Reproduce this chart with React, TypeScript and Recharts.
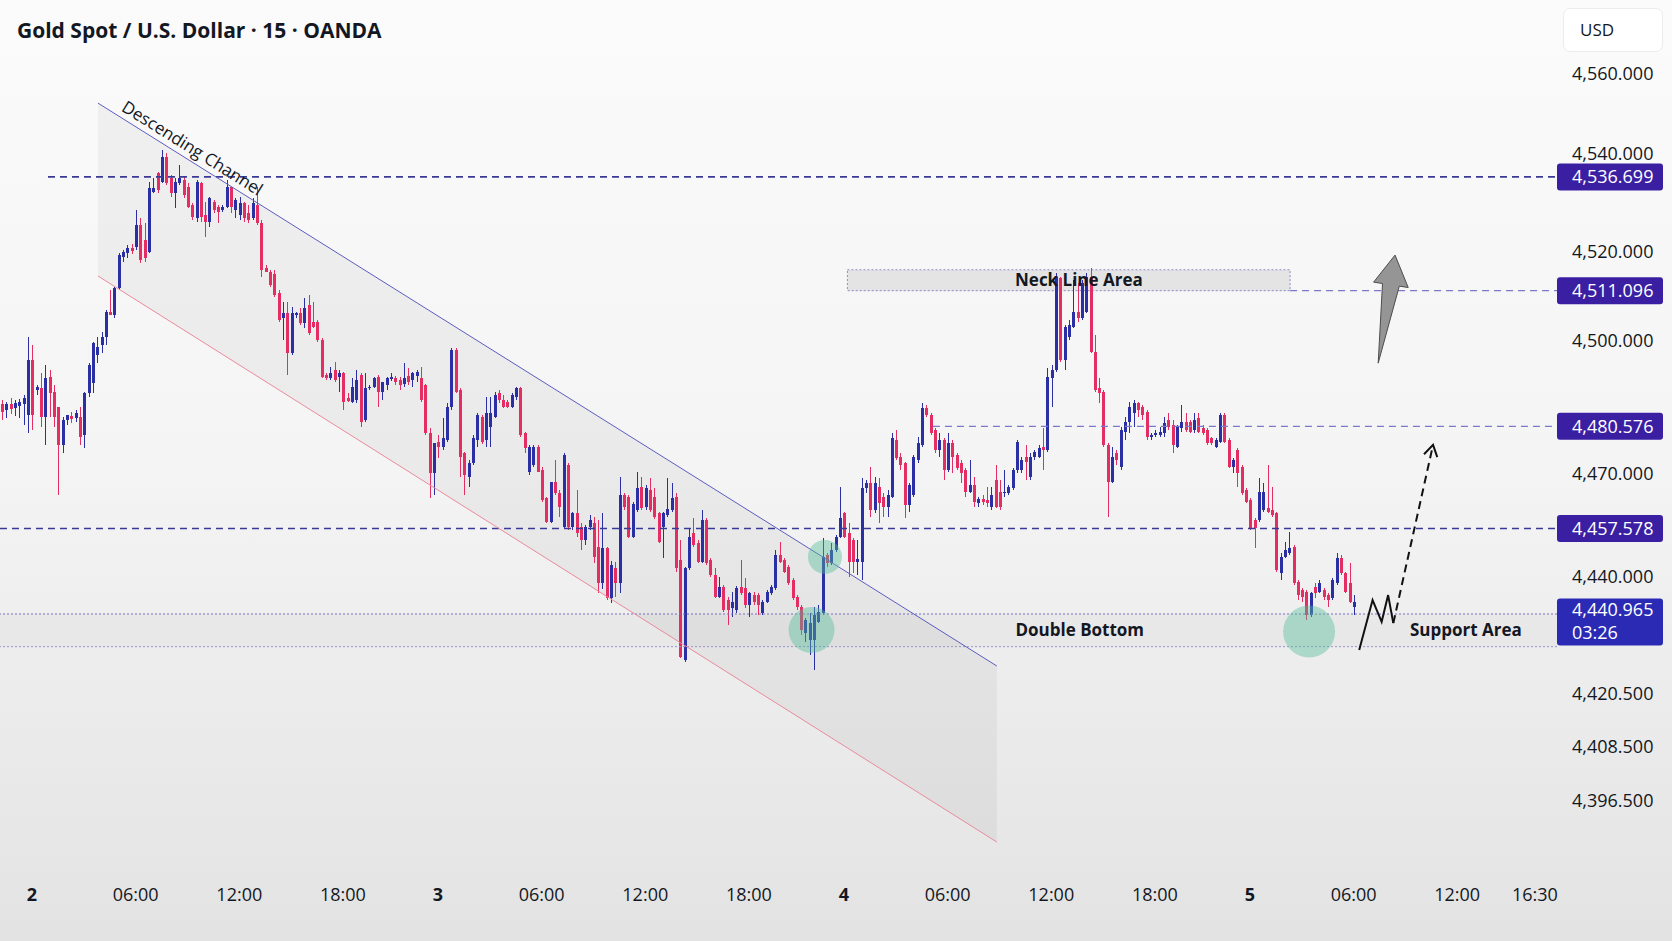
import React from "react";
import {
  ComposedChart,
  Bar,
  Area,
  Line,
  XAxis,
  YAxis,
  ReferenceLine,
  ReferenceArea,
  ReferenceDot,
} from "recharts";

type Ohlc = [number, number, number, number];

// 15 min XAU/USD bars as [open, high, low, close].
// bar index 0 = 1st, 23:45; the "2" tick sits on bar 7.
const session1: Ohlc[] = [
  [4485.6, 4486.5, 4482.0, 4483.8], [4484.3, 4486.1, 4482.5, 4485.6], [4485.6, 4487.0, 4483.4, 4484.5],
  [4484.7, 4486.5, 4482.9, 4485.8], [4485.2, 4486.7, 4482.5, 4486.1], [4485.6, 4487.6, 4480.9, 4487.0],
  [4483.1, 4500.7, 4479.1, 4495.5], [4495.5, 4498.9, 4479.8, 4483.1], [4488.8, 4489.9, 4487.6, 4489.4],
  [4489.2, 4492.6, 4480.4, 4482.7], [4482.7, 4494.4, 4476.4, 4491.5], [4491.7, 4493.3, 4482.7, 4488.1],
  [4488.3, 4489.9, 4480.4, 4482.7], [4484.9, 4484.9, 4465.1, 4476.4], [4476.4, 4482.7, 4474.6, 4482.0],
  [4482.0, 4483.1, 4480.9, 4483.1], [4482.9, 4483.8, 4481.3, 4482.2], [4482.5, 4484.3, 4481.6, 4483.6],
  [4482.7, 4484.9, 4476.4, 4478.2], [4478.6, 4488.3, 4475.7, 4488.1], [4488.1, 4494.8, 4487.2, 4494.4],
  [4490.3, 4499.6, 4488.1, 4499.3], [4496.6, 4500.7, 4494.8, 4498.4], [4498.9, 4501.8, 4497.1, 4500.7],
  [4500.7, 4506.8, 4498.9, 4506.3], [4506.3, 4511.3, 4505.6, 4505.6], [4505.6, 4511.9, 4505.0, 4511.7],
  [4511.7, 4519.6, 4511.3, 4519.1], [4518.7, 4520.3, 4517.6, 4519.8], [4519.6, 4521.4, 4518.5, 4520.7],
  [4520.7, 4521.6, 4519.4, 4520.0], [4520.9, 4529.3, 4520.3, 4525.9], [4525.9, 4527.5, 4517.3, 4518.0],
  [4522.5, 4526.3, 4517.6, 4518.5], [4519.8, 4535.6, 4519.6, 4534.2], [4533.3, 4536.5, 4533.1, 4534.2],
  [4537.6, 4537.8, 4533.1, 4533.8], [4535.6, 4542.8, 4535.3, 4541.2], [4541.2, 4542.1, 4534.9, 4535.3],
  [4536.5, 4537.1, 4532.2, 4533.1], [4533.1, 4536.5, 4529.7, 4535.6], [4535.3, 4539.4, 4534.9, 4536.5],
  [4536.0, 4536.7, 4531.9, 4532.6], [4534.4, 4535.3, 4529.7, 4529.9], [4530.4, 4530.8, 4527.0, 4527.7],
  [4527.5, 4536.0, 4526.6, 4535.6], [4535.3, 4535.6, 4526.6, 4527.7], [4528.1, 4531.1, 4523.2, 4526.6],
  [4526.6, 4532.2, 4525.4, 4531.9], [4531.1, 4531.5, 4528.6, 4529.3], [4529.9, 4530.4, 4526.3, 4528.8],
  [4529.3, 4530.4, 4528.8, 4529.9], [4529.9, 4536.0, 4529.7, 4534.4], [4534.4, 4534.4, 4528.6, 4529.9],
  [4529.3, 4531.9, 4527.5, 4531.5], [4528.1, 4532.2, 4527.0, 4530.8], [4530.8, 4531.1, 4526.6, 4527.5],
  [4528.6, 4530.4, 4526.3, 4527.0], [4527.5, 4531.9, 4527.0, 4530.8], [4530.4, 4534.4, 4525.9, 4526.3],
  [4526.3, 4527.0, 4514.2, 4515.8], [4516.2, 4516.9, 4515.3, 4515.3], [4515.3, 4515.8, 4511.9, 4512.4],
  [4514.9, 4515.8, 4509.7, 4510.1], [4510.6, 4511.3, 4504.1, 4504.5],
];

const session2: Ohlc[] = [
  [4505.0, 4508.6, 4500.0, 4506.1], [4506.1, 4508.6, 4492.1, 4497.1], [4497.1, 4507.4, 4496.6, 4506.1],
  [4505.6, 4506.3, 4505.0, 4506.1], [4506.1, 4507.2, 4503.4, 4503.8], [4503.8, 4509.5, 4502.7, 4507.2],
  [4507.9, 4510.1, 4501.1, 4501.6], [4504.1, 4508.6, 4502.7, 4502.9], [4504.1, 4504.5, 4499.6, 4500.0],
  [4500.0, 4500.5, 4491.5, 4491.7], [4492.1, 4492.6, 4491.0, 4491.5], [4491.5, 4493.9, 4491.0, 4492.6],
  [4493.3, 4495.1, 4490.6, 4491.0], [4491.7, 4493.3, 4488.3, 4492.6], [4492.6, 4492.8, 4484.3, 4486.1],
  [4487.0, 4488.1, 4486.1, 4486.3], [4486.1, 4491.5, 4485.8, 4489.4], [4486.5, 4493.3, 4485.8, 4491.0],
  [4492.1, 4492.6, 4480.4, 4481.6], [4482.0, 4492.6, 4481.6, 4489.2], [4489.2, 4489.9, 4488.8, 4489.4],
  [4489.4, 4491.7, 4489.2, 4491.5], [4491.7, 4492.1, 4484.9, 4488.3], [4488.3, 4490.6, 4486.5, 4490.6],
  [4489.9, 4491.7, 4488.8, 4491.5], [4491.2, 4492.6, 4490.8, 4491.7], [4491.5, 4491.9, 4489.9, 4490.6],
  [4491.0, 4491.7, 4488.8, 4489.9], [4490.1, 4494.8, 4489.4, 4491.5], [4491.9, 4493.7, 4489.9, 4490.6],
  [4491.0, 4492.8, 4489.4, 4492.6], [4491.9, 4493.3, 4490.6, 4492.8], [4491.5, 4493.9, 4486.1, 4486.5],
  [4489.9, 4490.1, 4478.6, 4479.1], [4479.1, 4480.2, 4464.5, 4470.1], [4470.1, 4476.8, 4465.1, 4476.8],
  [4477.1, 4478.6, 4473.5, 4475.9], [4475.9, 4482.5, 4475.3, 4478.0], [4477.5, 4485.8, 4477.1, 4484.9],
  [4484.9, 4498.2, 4484.3, 4497.8], [4497.8, 4498.2, 4488.1, 4488.3], [4488.8, 4489.2, 4469.2, 4473.7],
  [4474.6, 4474.8, 4465.1, 4469.6], [4469.2, 4473.0, 4466.9, 4472.3], [4472.3, 4478.6, 4471.9, 4478.0],
  [4477.5, 4483.6, 4475.9, 4483.1], [4482.7, 4483.1, 4476.6, 4477.1], [4477.5, 4487.2, 4475.9, 4483.6],
  [4480.4, 4487.2, 4475.9, 4483.6], [4482.7, 4488.3, 4482.5, 4487.6], [4488.1, 4488.8, 4485.8, 4486.5],
  [4486.5, 4487.6, 4484.7, 4484.9], [4486.1, 4486.5, 4484.7, 4484.9], [4484.9, 4488.1, 4484.7, 4487.6],
  [4487.2, 4489.4, 4486.5, 4489.2], [4489.2, 4489.4, 4478.2, 4478.6], [4479.1, 4479.3, 4474.6, 4475.7],
  [4470.3, 4476.4, 4469.6, 4475.9], [4471.9, 4476.4, 4471.4, 4475.9], [4475.9, 4476.4, 4470.3, 4470.3],
  [4470.8, 4471.4, 4463.6, 4464.0], [4464.5, 4464.7, 4458.8, 4459.1], [4459.1, 4468.1, 4458.8, 4468.1],
  [4468.1, 4473.0, 4465.1, 4465.6], [4465.6, 4466.3, 4460.2, 4462.4],
];

const session3: Ohlc[] = [
  [4457.9, 4474.6, 4457.7, 4474.1], [4471.9, 4472.3, 4457.3, 4457.9], [4457.9, 4461.3, 4457.3, 4461.1],
  [4461.1, 4466.3, 4455.7, 4456.6], [4457.9, 4458.8, 4452.8, 4455.0], [4455.0, 4458.4, 4453.9, 4457.9],
  [4457.9, 4460.6, 4457.3, 4459.5], [4458.8, 4460.2, 4449.8, 4451.2], [4453.4, 4459.5, 4443.1, 4445.3],
  [4445.3, 4461.1, 4444.0, 4453.2], [4453.2, 4453.4, 4441.5, 4442.0], [4442.0, 4450.3, 4440.8, 4449.4],
  [4448.7, 4450.1, 4442.2, 4445.3], [4445.3, 4469.2, 4443.1, 4465.1], [4465.1, 4465.6, 4461.8, 4462.4],
  [4464.7, 4465.1, 4455.5, 4455.7], [4455.7, 4463.6, 4455.5, 4463.1], [4461.8, 4470.3, 4461.3, 4466.7],
  [4466.9, 4469.2, 4461.8, 4462.2], [4462.4, 4467.4, 4461.8, 4466.7], [4466.3, 4469.0, 4461.3, 4461.8],
  [4464.7, 4466.7, 4459.7, 4460.2], [4461.1, 4461.3, 4454.3, 4454.6], [4457.9, 4461.3, 4451.0, 4461.1],
  [4460.6, 4469.0, 4460.2, 4462.0], [4461.8, 4467.8, 4461.3, 4464.5], [4464.7, 4465.6, 4447.8, 4448.7],
  [4450.5, 4455.0, 4428.5, 4428.7], [4428.0, 4448.9, 4427.6, 4448.7], [4448.7, 4457.7, 4448.3, 4455.7],
  [4456.6, 4460.0, 4453.4, 4453.9], [4454.3, 4455.0, 4449.8, 4450.1], [4450.1, 4461.8, 4449.8, 4459.5],
  [4459.5, 4460.0, 4449.4, 4449.8], [4450.5, 4451.0, 4446.7, 4447.1], [4447.1, 4448.7, 4442.0, 4442.2],
  [4442.2, 4446.7, 4442.0, 4444.4], [4444.4, 4444.9, 4438.8, 4439.3], [4441.5, 4442.2, 4435.9, 4439.3],
  [4439.7, 4443.3, 4437.7, 4441.1], [4439.3, 4444.6, 4438.6, 4444.2], [4444.4, 4450.5, 4442.6, 4443.1],
  [4444.2, 4446.5, 4439.7, 4440.4], [4440.4, 4443.3, 4437.7, 4443.1], [4442.6, 4443.3, 4440.4, 4441.1],
  [4442.6, 4443.1, 4438.1, 4440.4], [4438.6, 4441.5, 4438.1, 4441.1], [4441.1, 4443.8, 4440.8, 4443.3],
  [4443.1, 4444.9, 4442.6, 4444.4], [4444.2, 4452.8, 4443.8, 4451.6], [4451.6, 4454.6, 4449.8, 4450.1],
  [4450.5, 4451.0, 4447.6, 4447.8], [4448.9, 4449.4, 4444.9, 4445.3], [4446.0, 4446.5, 4441.5, 4442.0],
  [4442.2, 4442.6, 4439.3, 4439.9], [4439.9, 4440.4, 4433.6, 4434.8], [4434.1, 4437.5, 4432.1, 4437.0],
  [4432.5, 4438.6, 4429.1, 4436.3], [4432.5, 4439.9, 4425.8, 4438.1], [4436.6, 4440.4, 4436.3, 4438.8],
  [4438.6, 4455.5, 4438.1, 4451.2], [4451.6, 4452.1, 4448.9, 4449.8], [4449.8, 4454.3, 4449.4, 4452.8],
  [4452.8, 4456.1, 4452.3, 4455.7],
];

const session4: Ohlc[] = [
  [4455.7, 4466.9, 4455.5, 4460.0], [4461.1, 4461.3, 4455.5, 4455.7], [4456.6, 4458.8, 4446.7, 4450.1],
  [4455.0, 4455.5, 4447.6, 4450.1], [4450.1, 4455.0, 4447.1, 4450.7], [4450.1, 4469.0, 4446.0, 4466.7],
  [4466.7, 4468.5, 4465.6, 4467.8], [4467.8, 4471.4, 4460.2, 4461.8], [4461.8, 4469.2, 4461.1, 4467.8],
  [4466.9, 4469.0, 4458.8, 4463.3], [4464.7, 4465.6, 4460.2, 4462.4], [4462.4, 4466.3, 4460.2, 4465.1],
  [4464.7, 4479.1, 4464.5, 4478.0], [4477.5, 4479.8, 4473.0, 4473.5], [4473.7, 4474.6, 4470.8, 4471.9],
  [4472.3, 4472.6, 4460.0, 4462.9], [4462.9, 4467.8, 4461.3, 4467.4], [4465.1, 4474.1, 4464.7, 4473.7],
  [4473.0, 4478.2, 4472.3, 4476.8], [4476.4, 4485.8, 4475.9, 4484.7], [4484.7, 4485.4, 4482.7, 4483.1],
  [4483.1, 4483.6, 4478.6, 4479.1], [4479.8, 4480.2, 4474.6, 4475.3], [4475.3, 4479.1, 4473.7, 4477.5],
  [4477.5, 4478.0, 4468.5, 4470.8], [4470.8, 4479.1, 4470.3, 4476.8], [4476.8, 4477.5, 4470.1, 4473.7],
  [4474.1, 4474.6, 4470.8, 4471.2], [4472.3, 4473.0, 4467.8, 4470.1], [4470.8, 4471.2, 4464.7, 4465.8],
  [4465.8, 4473.0, 4465.6, 4467.4], [4467.4, 4469.2, 4462.4, 4463.6], [4463.3, 4464.7, 4462.4, 4464.2],
  [4464.2, 4465.1, 4462.9, 4463.6], [4464.0, 4466.9, 4462.4, 4463.3], [4462.4, 4466.9, 4461.8, 4465.1],
  [4468.5, 4471.9, 4462.2, 4462.4], [4465.8, 4468.5, 4461.8, 4462.4], [4465.6, 4470.8, 4464.7, 4465.8],
  [4465.6, 4467.4, 4465.1, 4466.9], [4466.7, 4471.2, 4466.3, 4470.8], [4470.8, 4477.5, 4470.1, 4477.1],
  [4470.8, 4473.7, 4470.1, 4473.0], [4473.7, 4476.4, 4468.5, 4472.6], [4469.2, 4474.6, 4468.5, 4473.7],
  [4473.7, 4475.3, 4473.0, 4474.8], [4473.7, 4476.4, 4473.5, 4475.7], [4475.9, 4480.2, 4470.8, 4475.3],
  [4475.3, 4493.7, 4474.8, 4491.7], [4491.5, 4494.4, 4484.9, 4493.3], [4493.3, 4515.1, 4492.8, 4514.2],
  [4514.0, 4514.2, 4495.1, 4495.5], [4495.5, 4503.4, 4493.3, 4502.9], [4500.7, 4504.5, 4500.0, 4503.4],
  [4502.9, 4513.5, 4502.7, 4506.3], [4506.3, 4512.8, 4504.1, 4505.0], [4505.0, 4513.5, 4504.5, 4512.8],
  [4506.3, 4515.1, 4506.1, 4514.2], [4514.2, 4516.2, 4497.1, 4497.3], [4497.3, 4501.1, 4488.3, 4488.8],
  [4489.2, 4491.5, 4485.8, 4488.1], [4488.3, 4488.8, 4475.9, 4476.4], [4476.4, 4476.8, 4460.2, 4468.1],
  [4468.1, 4475.9, 4467.8, 4473.7], [4474.6, 4475.3, 4471.9, 4473.0],
];

const session5: Ohlc[] = [
  [4471.4, 4480.4, 4470.8, 4479.8], [4479.3, 4482.7, 4477.5, 4481.6], [4481.6, 4486.1, 4479.1, 4484.9],
  [4483.6, 4486.5, 4480.4, 4485.8], [4485.8, 4486.1, 4482.7, 4484.3], [4484.9, 4485.4, 4482.0, 4483.1],
  [4483.8, 4484.3, 4477.5, 4478.2], [4478.2, 4479.1, 4477.5, 4478.6], [4478.6, 4479.8, 4478.2, 4479.1],
  [4478.6, 4480.4, 4478.2, 4479.3], [4479.1, 4482.7, 4478.2, 4481.3], [4482.0, 4483.6, 4479.8, 4480.4],
  [4480.9, 4482.0, 4474.6, 4476.4], [4475.9, 4480.9, 4475.7, 4480.4], [4480.2, 4485.4, 4479.3, 4481.6],
  [4481.6, 4483.6, 4479.3, 4479.8], [4481.6, 4482.0, 4479.1, 4479.3], [4479.8, 4483.6, 4479.1, 4482.0],
  [4482.5, 4483.6, 4479.1, 4479.3], [4480.2, 4480.9, 4478.6, 4479.1], [4479.8, 4480.2, 4476.4, 4476.8],
  [4478.0, 4478.2, 4476.4, 4476.8], [4475.9, 4478.0, 4475.7, 4477.5], [4477.1, 4483.6, 4476.8, 4483.1],
  [4483.1, 4483.6, 4476.8, 4477.1], [4477.5, 4478.0, 4471.2, 4471.4], [4471.4, 4473.5, 4470.1, 4473.0],
  [4475.3, 4475.7, 4466.9, 4470.1], [4471.4, 4471.9, 4465.1, 4465.6], [4466.3, 4466.7, 4463.3, 4463.6],
  [4464.0, 4464.5, 4457.3, 4457.7], [4459.5, 4460.0, 4453.2, 4457.7], [4459.5, 4469.0, 4459.1, 4465.8],
  [4461.8, 4467.8, 4461.3, 4465.8], [4462.2, 4471.9, 4461.1, 4461.3], [4461.8, 4466.9, 4460.2, 4460.6],
  [4461.1, 4461.3, 4447.8, 4448.3], [4447.6, 4452.1, 4446.0, 4451.2], [4451.2, 4454.6, 4451.0, 4452.8],
  [4452.1, 4456.8, 4451.6, 4453.2], [4453.4, 4453.9, 4444.9, 4445.3], [4445.5, 4446.0, 4441.5, 4442.6],
  [4443.8, 4444.2, 4441.1, 4442.2], [4443.3, 4443.8, 4437.0, 4438.1], [4438.1, 4443.3, 4437.7, 4443.1],
  [4444.4, 4445.3, 4442.0, 4443.1], [4443.3, 4446.0, 4443.1, 4445.3], [4443.8, 4444.2, 4441.5, 4442.2],
  [4442.6, 4443.1, 4439.9, 4441.5], [4442.0, 4446.5, 4441.5, 4446.0], [4445.3, 4452.1, 4444.9, 4451.0],
  [4451.0, 4451.6, 4447.1, 4447.6], [4447.6, 4447.8, 4443.1, 4443.3], [4445.3, 4449.8, 4440.8, 4441.1],
  [4439.9, 4442.6, 4438.1, 4440.965],
];

// time axis: bar index -> label
const TIME_TICKS = [7, 31, 55, 79, 101, 125, 149, 173, 195, 219, 243, 267, 289, 313, 337, 355];
const TIME_LABELS = ["2", "06:00", "12:00", "18:00", "3", "06:00", "12:00", "18:00", "4", "06:00", "12:00", "18:00", "5", "06:00", "12:00", "16:30"];
const DAY_LABELS = ["2", "3", "4", "5"];

const PRICE_TICKS = [4560, 4540, 4520, 4500, 4470, 4440, 4420.5, 4408.5, 4396.5];

// drawn horizontal levels and the bar they start from
const LEVELS = [4536.699, 4511.096, 4480.576, 4457.578];
const LEVEL_FROM = [10.7, 298.3, 215.6, -0.41];
const LEVEL_STRONG = [true, false, false, true];

const LAST_PRICE = 4440.965;
const COUNTDOWN = "03:26";

// descending channel (bar index, upper price, lower price)
const CHANNEL_X = [22.28, 230.4];
const CHANNEL_UPPER = [4553.3, 4426.65];
const CHANNEL_LOWER = [4514.4, 4387.05];

const NECK_ZONE = { x: [195.8, 298.3], y: [4511.096, 4515.8] };
const SUPPORT_ZONE = [4431.0, 4438.35];

// the two bottoms and the breakout retest
const MARK_X = [190.6, 187.5, 302.7];
const MARK_Y = [4451.2, 4434.75, 4434.4];

// projected path after the last bar
const PATH_X = [314.3, 317.4, 319.5, 321.0, 322.2];
const PATH_Y = [4430.25, 4441.5, 4436.6, 4442.6, 4436.3];
const TARGET = { x: 331.4, y: 4476.4 };
const BIG_ARROW = { x: [318.7, 322.6], y: [4494.8, 4519.1] };

const X_DOMAIN: [number, number] = [-0.41, 360.1];
const Y_DOMAIN: [number, number] = [4383, 4565.25];

const UP = "#2b2fa4";
const DOWN = "#e42d63";
const LEVEL_DARK = "#3a3a96";
const LEVEL_LIGHT = "#7b78c9";
const BOX = "#3b1fa3";
const BOX_LAST = "#2a2ab5";
const INK = "#131722";
const FONT = "'Open Sans', 'DejaVu Sans', sans-serif";

const bars = [...session1, ...session2, ...session3, ...session4, ...session5].map(
  ([o, h, l, c], i) => ({
    i,
    o,
    h: Math.max(h, o, c),
    l: Math.min(l, o, c),
    c,
    range: [Math.min(l, o, c), Math.max(h, o, c)],
  })
);

const channelBand = CHANNEL_X.map((x, k) => ({ i: x, band: [CHANNEL_LOWER[k], CHANNEL_UPPER[k]] }));
const zigzag = PATH_X.map((x, k) => ({ i: x, p: PATH_Y[k] }));

const fmt = (v: number) =>
  v.toLocaleString("en-US", { minimumFractionDigits: 3, maximumFractionDigits: 3 });

// price labels that would sit under a level box are lifted above it
const lift = (v: number) => {
  if (Math.abs(v - LAST_PRICE) < 2) return -30;
  const near = LEVELS.find((lv) => v > lv && v - lv < 4);
  return near === undefined ? 0 : -9;
};

function Candle(props: any) {
  const { x, y, width, height, payload } = props;
  if (x == null || y == null) return null;
  const top = Math.min(y, y + height);
  const bottom = Math.max(y, y + height);
  const span = payload.h - payload.l;
  const toY = (v: number) => (span === 0 ? top : top + ((payload.h - v) / span) * (bottom - top));
  const color = payload.c >= payload.o ? UP : DOWN;
  const yo = toY(payload.o);
  const yc = toY(payload.c);
  const left = Math.round(x);
  return (
    <g shapeRendering="crispEdges">
      <rect x={left + 1} y={top} width={1} height={bottom - top} fill={color} />
      <rect x={left} y={Math.min(yo, yc)} width={3} height={Math.max(1, Math.abs(yc - yo))} fill={color} />
    </g>
  );
}

function ChannelTop(props: any) {
  const { x1, y1, x2, y2 } = props;
  const ang = (Math.atan2(y2 - y1, x2 - x1) * 180) / Math.PI;
  const t = 0.098;
  const tx = x1 + (x2 - x1) * t;
  const ty = y1 + (y2 - y1) * t;
  return (
    <g>
      <line x1={x1} y1={y1} x2={x2} y2={y2} stroke="#5c5cc2" strokeWidth={1} />
      <text
        transform={`translate(${tx},${ty}) rotate(${ang})`}
        y={-6}
        textAnchor="middle"
        fontFamily={FONT}
        fontSize={17}
        fill={INK}
      >
        Descending Channel
      </text>
    </g>
  );
}

function GrayArrow(props: any) {
  const { x1, y1, x2, y2 } = props;
  const len = Math.hypot(x2 - x1, y2 - y1);
  const ux = (x2 - x1) / len;
  const uy = (y2 - y1) / len;
  const nx = -uy;
  const ny = ux;
  const head = 30;
  const bx = x2 - ux * head;
  const by = y2 - uy * head;
  const pts = [
    [x1, y1],
    [bx + nx * 9, by + ny * 9],
    [bx + nx * 18, by + ny * 18],
    [x2, y2],
    [bx - nx * 17, by - ny * 17],
    [bx - nx * 8, by - ny * 8],
  ]
    .map((p) => p.join(","))
    .join(" ");
  return <polygon points={pts} fill="#959595" stroke="#4d4d4d" strokeWidth={1} strokeLinejoin="round" />;
}

function DashedArrow(props: any) {
  const { x1, y1, x2, y2 } = props;
  const a = Math.atan2(y2 - y1, x2 - x1);
  const L = 13;
  const w1 = [x2 - L * Math.cos(a - 0.55), y2 - L * Math.sin(a - 0.55)];
  const w2 = [x2 - L * Math.cos(a + 0.55), y2 - L * Math.sin(a + 0.55)];
  return (
    <g stroke="#111" strokeWidth={2} fill="none">
      <line x1={x1} y1={y1} x2={x2} y2={y2} strokeDasharray="8 5" />
      <polyline points={`${w1[0]},${w1[1]} ${x2},${y2} ${w2[0]},${w2[1]}`} />
    </g>
  );
}

const textDot = (label: string, size: number) => (p: any) =>
  (
    <text x={p.cx} y={p.cy} dy={6} textAnchor="middle" fontFamily={FONT} fontWeight={700} fontSize={size} fill={INK}>
      {label}
    </text>
  );

const levelBox = (value: number) => (p: any) =>
  (
    <g>
      <rect x={p.cx} y={p.cy - 13.5} width={106} height={27} rx={3} fill={BOX} />
      <text x={p.cx + 15} y={p.cy + 6.5} fontFamily={FONT} fontSize={18} fill="#fff">
        {fmt(value)}
      </text>
    </g>
  );

const lastBox = (p: any) => (
  <g>
    <rect x={p.cx} y={p.cy - 4} width={106} height={47} rx={3} fill={BOX_LAST} />
    <text x={p.cx + 15} y={p.cy + 14} fontFamily={FONT} fontSize={18} fill="#fff">
      {fmt(LAST_PRICE)}
    </text>
    <text x={p.cx + 15} y={p.cy + 37} fontFamily={FONT} fontSize={18} fill="#fff">
      {COUNTDOWN}
    </text>
  </g>
);

function TimeTick(props: any) {
  const { x, y, payload } = props;
  const label = TIME_LABELS[TIME_TICKS.indexOf(payload.value)] ?? "";
  const isDay = DAY_LABELS.includes(label);
  return (
    <text x={x} y={y} dy={41} textAnchor="middle" fontFamily={FONT} fontSize={18} fontWeight={isDay ? 700 : 400} fill={INK}>
      {label}
    </text>
  );
}

function PriceTick(props: any) {
  const { x, y, payload } = props;
  return (
    <text x={x} y={y + lift(payload.value)} dy={6.5} textAnchor="start" fontFamily={FONT} fontSize={18} fill={INK}>
      {fmt(payload.value)}
    </text>
  );
}

export default function App() {
  return (
    <div
      style={{
        position: "relative",
        width: 1672,
        height: 941,
        overflow: "hidden",
        fontFamily: FONT,
        background: "linear-gradient(180deg, #fbfbfb 0%, #f4f4f4 50%, #e3e3e3 100%)",
      }}
    >
      <style>{"body{margin:0}"}</style>
      <ComposedChart width={1672} height={941} data={bars} margin={{ top: 50, right: 0, left: 0, bottom: 0 }}>
        <XAxis
          dataKey="i"
          type="number"
          domain={X_DOMAIN}
          allowDataOverflow
          ticks={TIME_TICKS}
          interval={0}
          tick={<TimeTick />}
          axisLine={false}
          tickLine={false}
          tickSize={0}
          tickMargin={0}
          height={81}
        />
        <YAxis
          orientation="right"
          type="number"
          domain={Y_DOMAIN}
          allowDataOverflow
          ticks={PRICE_TICKS}
          interval={0}
          tick={<PriceTick />}
          axisLine={false}
          tickLine={false}
          tickSize={0}
          tickMargin={15}
          width={115}
        />

        <Area
          data={channelBand}
          dataKey="band"
          type="linear"
          stroke="none"
          fill="#000"
          fillOpacity={0.04}
          isAnimationActive={false}
          activeDot={false}
        />

        <ReferenceArea
          x1={X_DOMAIN[0]}
          x2={X_DOMAIN[1]}
          y1={SUPPORT_ZONE[0]}
          y2={SUPPORT_ZONE[1]}
          fill="#000"
          fillOpacity={0.025}
          stroke="none"
          ifOverflow="visible"
        />
        <ReferenceLine y={SUPPORT_ZONE[1]} stroke="#7a6fc0" strokeDasharray="2 2" strokeWidth={1} ifOverflow="visible" />
        <ReferenceLine y={SUPPORT_ZONE[0]} stroke="#9a94c8" strokeDasharray="2 2" strokeWidth={1} ifOverflow="visible" />

        <ReferenceArea
          x1={NECK_ZONE.x[0]}
          x2={NECK_ZONE.x[1]}
          y1={NECK_ZONE.y[0]}
          y2={NECK_ZONE.y[1]}
          fill="#dedede"
          fillOpacity={0.8}
          stroke="#8c8cc8"
          strokeDasharray="2 2"
          strokeWidth={1}
          ifOverflow="visible"
        />

        {LEVELS.map((v, k) => (
          <ReferenceLine
            key={`lv${k}`}
            segment={[
              { x: LEVEL_FROM[k], y: v },
              { x: X_DOMAIN[1], y: v },
            ]}
            stroke={LEVEL_STRONG[k] ? LEVEL_DARK : LEVEL_LIGHT}
            strokeWidth={LEVEL_STRONG[k] ? 1.6 : 1.2}
            strokeDasharray="7 5"
            ifOverflow="visible"
          />
        ))}

        <ReferenceLine
          segment={[
            { x: CHANNEL_X[0], y: CHANNEL_UPPER[0] },
            { x: CHANNEL_X[1], y: CHANNEL_UPPER[1] },
          ]}
          shape={<ChannelTop />}
          ifOverflow="visible"
        />
        <ReferenceLine
          segment={[
            { x: CHANNEL_X[0], y: CHANNEL_LOWER[0] },
            { x: CHANNEL_X[1], y: CHANNEL_LOWER[1] },
          ]}
          stroke="#ea8a9c"
          strokeWidth={1}
          ifOverflow="visible"
        />

        <Bar dataKey="range" shape={<Candle />} barSize={3} isAnimationActive={false} />

        <ReferenceDot x={MARK_X[0]} y={MARK_Y[0]} r={17} fill="#52bd98" fillOpacity={0.42} stroke="none" ifOverflow="visible" />
        <ReferenceDot x={MARK_X[1]} y={MARK_Y[1]} r={23} fill="#52bd98" fillOpacity={0.42} stroke="none" ifOverflow="visible" />
        <ReferenceDot x={MARK_X[2]} y={MARK_Y[2]} r={26} fill="#52bd98" fillOpacity={0.42} stroke="none" ifOverflow="visible" />

        <Line
          data={zigzag}
          dataKey="p"
          type="linear"
          stroke="#111"
          strokeWidth={2}
          dot={false}
          activeDot={false}
          isAnimationActive={false}
        />
        <ReferenceLine
          segment={[
            { x: PATH_X[PATH_X.length - 1], y: PATH_Y[PATH_Y.length - 1] },
            { x: TARGET.x, y: TARGET.y },
          ]}
          shape={<DashedArrow />}
          ifOverflow="visible"
        />
        <ReferenceLine
          segment={[
            { x: BIG_ARROW.x[0], y: BIG_ARROW.y[0] },
            { x: BIG_ARROW.x[1], y: BIG_ARROW.y[1] },
          ]}
          shape={<GrayArrow />}
          ifOverflow="visible"
        />

        <ReferenceDot x={249.4} y={(NECK_ZONE.y[0] + NECK_ZONE.y[1]) / 2} r={0} shape={textDot("Neck Line Area", 17)} ifOverflow="visible" />
        <ReferenceDot x={249.6} y={(SUPPORT_ZONE[0] + SUPPORT_ZONE[1]) / 2} r={0} shape={textDot("Double Bottom", 17)} ifOverflow="visible" />
        <ReferenceDot x={339.0} y={(SUPPORT_ZONE[0] + SUPPORT_ZONE[1]) / 2} r={0} shape={textDot("Support Area", 17)} ifOverflow="visible" />

        {LEVELS.map((v, k) => (
          <ReferenceDot key={`bx${k}`} x={X_DOMAIN[1]} y={v} r={0} shape={levelBox(v)} ifOverflow="visible" />
        ))}
        <ReferenceDot x={X_DOMAIN[1]} y={LAST_PRICE} r={0} shape={lastBox} ifOverflow="visible" />
      </ComposedChart>

      <div
        style={{
          position: "absolute",
          left: 17,
          top: 17,
          fontSize: 21,
          lineHeight: "26px",
          fontWeight: 700,
          color: INK,
          whiteSpace: "nowrap",
        }}
      >
        Gold Spot / U.S. Dollar · 15 · OANDA
      </div>
      <div
        style={{
          position: "absolute",
          left: 1563,
          top: 8,
          width: 100,
          height: 44,
          boxSizing: "border-box",
          background: "#fff",
          border: "1px solid #ececec",
          borderRadius: 7,
          fontSize: 17,
          lineHeight: "42px",
          paddingLeft: 16,
          color: INK,
        }}
      >
        USD
      </div>
    </div>
  );
}
